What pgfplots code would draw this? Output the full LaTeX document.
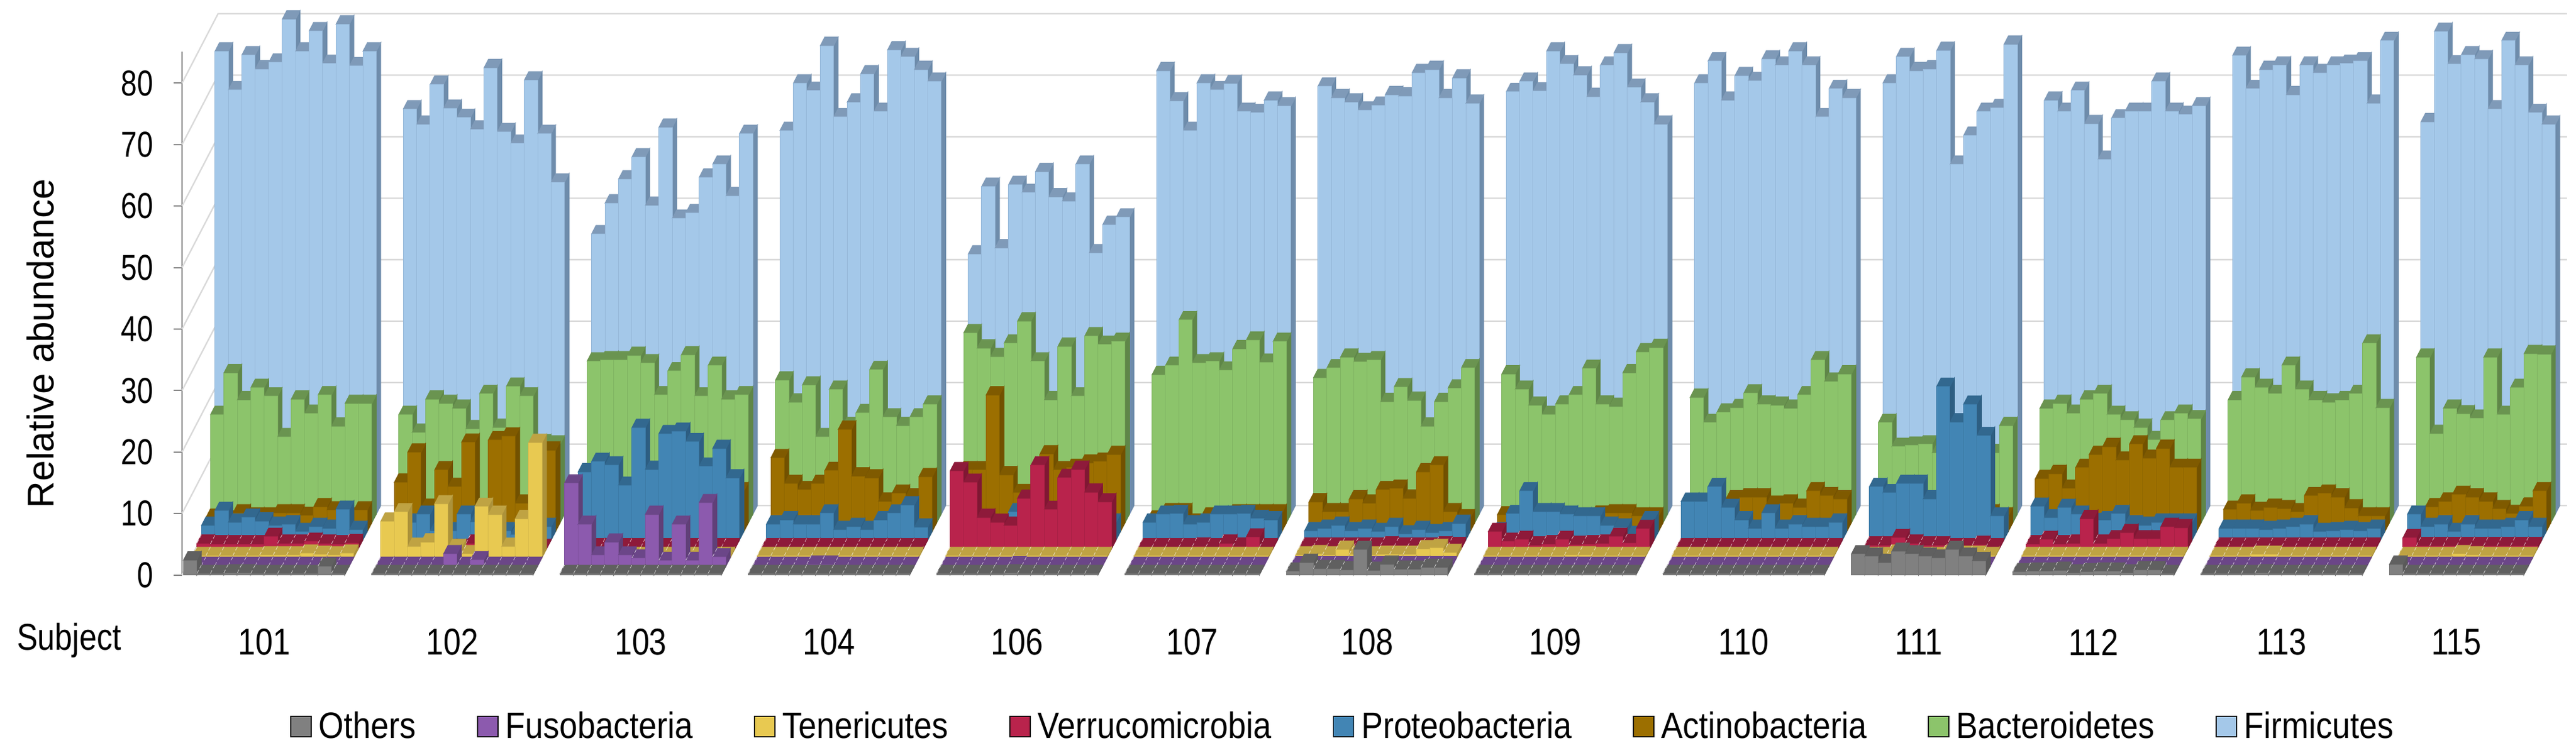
\documentclass[border=0pt]{standalone}
\usepackage{pgfplots}
\usepackage{pgfplotstable}
\usepackage{fontspec}
\pgfplotsset{compat=1.18}
\setmainfont{Liberation Sans}
\newfontfamily\tf[FakeStretch=0.84]{Liberation Sans}
\newfontfamily\yf[FakeStretch=0.80]{Liberation Sans}
\newfontfamily\lf[FakeStretch=0.88]{Liberation Sans}
\definecolor{f0}{HTML}{808080}\definecolor{c0}{HTML}{606060}\definecolor{s0}{HTML}{5A5A5A}
\definecolor{f1}{HTML}{8C5AAE}\definecolor{c1}{HTML}{6B4688}\definecolor{s1}{HTML}{604078}
\definecolor{f2}{HTML}{E8C951}\definecolor{c2}{HTML}{BFA343}\definecolor{s2}{HTML}{AC923A}
\definecolor{f3}{HTML}{B9234C}\definecolor{c3}{HTML}{8E1A3A}\definecolor{s3}{HTML}{801733}
\definecolor{f4}{HTML}{4285B4}\definecolor{c4}{HTML}{32688F}\definecolor{s4}{HTML}{2D5E82}
\definecolor{f5}{HTML}{9C6F00}\definecolor{c5}{HTML}{7F5A00}\definecolor{s5}{HTML}{725100}
\definecolor{f6}{HTML}{8CC46B}\definecolor{c6}{HTML}{6A9450}\definecolor{s6}{HTML}{5F8648}
\definecolor{f7}{HTML}{A4C8E9}\definecolor{c7}{HTML}{7F9AB8}\definecolor{s7}{HTML}{6E8CAB}
\colorlet{e0}{s0!28!f0}\colorlet{e1}{s1!28!f1}\colorlet{e2}{s2!28!f2}\colorlet{e3}{s3!28!f3}
\colorlet{e4}{s4!28!f4}\colorlet{e5}{s5!28!f5}\colorlet{e6}{s6!28!f6}\colorlet{e7}{s7!28!f7}
\colorlet{w0}{white!70!c0}\colorlet{w1}{white!70!c1}\colorlet{w2}{white!70!c2}\colorlet{w3}{white!70!c3}
\colorlet{w4}{white!70!c4}\colorlet{w5}{white!70!c5}\colorlet{w6}{white!70!c6}\colorlet{w7}{white!70!c7}
\definecolor{gridc}{HTML}{D9D9D9}\definecolor{axisc}{HTML}{808080}
\newdimen\cuW \cuW=5.5975bp
\newdimen\cuDX \cuDX=1.875bp
\newdimen\cuDY \cuDY=3.6125bp
\newdimen\cuH
\newdimen\cuXB \newdimen\cuYA \newdimen\cuYB
\newcommand\DeclareCuboid[1]{%
\pgfdeclareplotmark{cuboid#1}{%
  \pgfmathsetlength\cuH{\valh*2.56bp}%
  \pgftransformshift{\pgfqpoint{#1\cuDX}{#1\cuDY}}%
  \cuXB=\cuW \advance\cuXB by \cuDX
  \cuYB=\cuDY \advance\cuYB by -\cuH
  \cuYA=-\cuH
  \pgfsetlinewidth{0.25bp}%
  \pgfsetfillcolor{s#1}\pgfsetstrokecolor{s#1}%
  \pgfpathmoveto{\pgfqpoint{\cuW}{0pt}}%
  \pgfpathlineto{\pgfqpoint{\cuXB}{\cuDY}}%
  \pgfpathlineto{\pgfqpoint{\cuXB}{\cuYB}}%
  \pgfpathlineto{\pgfqpoint{\cuW}{\cuYA}}%
  \pgfpathclose\pgfusepath{fill,stroke}%
  \pgfsetfillcolor{c#1}\pgfsetstrokecolor{c#1}%
  \pgfpathmoveto{\pgfqpoint{0pt}{0pt}}%
  \pgfpathlineto{\pgfqpoint{\cuW}{0pt}}%
  \pgfpathlineto{\pgfqpoint{\cuXB}{\cuDY}}%
  \pgfpathlineto{\pgfqpoint{\cuDX}{\cuDY}}%
  \pgfpathclose\pgfusepath{fill,stroke}%
  \ifnum#1<4 \ifdim\cuH<4bp
    \pgfsetstrokecolor{w#1}\pgfsetlinewidth{0.2bp}%
    \pgfsetdash{{1.6bp}{1bp}}{0pt}%
    \pgfpathmoveto{\pgfqpoint{0pt}{0pt}}%
    \pgfpathlineto{\pgfqpoint{\cuDX}{\cuDY}}%
    \pgfusepath{stroke}%
    \pgfsetdash{}{0pt}\pgfsetlinewidth{0.25bp}%
  \fi\fi
  \pgfsetfillcolor{f#1}\pgfsetstrokecolor{e#1}%
  \pgfpathrectangle{\pgfqpoint{0pt}{\cuYA}}{\pgfqpoint{\cuW}{\cuH}}%
  \pgfusepath{fill,stroke}%
}}
\DeclareCuboid{0}\DeclareCuboid{1}\DeclareCuboid{2}\DeclareCuboid{3}
\DeclareCuboid{4}\DeclareCuboid{5}\DeclareCuboid{6}\DeclareCuboid{7}
\pgfplotstableread{
slot oth fus ten ver pro act bac fir
0 2.4 .1 .3 .9 2.4 2.3 17.6 75.3
1 .2 .1 .3 .8 4.8 2 24.4 69
2 .2 .1 .3 .8 2.9 3 20 74.7
3 .3 .1 .3 .8 3.7 2.5 22 72.4
4 .3 .1 .3 .8 3.1 2.5 20.6 73.5
5 .2 .1 .4 2 2.4 3 14 80.5
6 .2 .1 .4 .9 2.6 3 20.1 75.3
7 .2 .1 .4 .9 1.4 2.6 17.8 78.6
8 .2 .1 .7 1.2 2.2 4 20.8 73.3
9 .2 .1 .5 .9 1.9 3.5 15.7 79.7
10 1.4 .1 .4 .8 5 2.5 19.4 72.9
11 .2 .1 .7 1 1.7 3.5 19.4 75.3
14 .2 .1 5.9 .2 2 8 17.6 65.9
15 .2 .1 7.4 .2 2.9 12.9 14.7 63.4
16 .2 .1 1.8 .2 4.2 3.9 20.1 69.9
17 .2 .1 2.5 .2 1.5 10 19.4 66
18 .2 .1 8.7 .2 1.5 7.3 18.6 64.5
19 .2 2 1.6 .2 4.2 14.5 15.3 62.6
20 .2 .1 .6 .9 3 2.2 21 72.6
21 .2 1 8.3 .2 1.5 14.9 15.5 62.2
22 .2 .1 7 .2 1.5 15.5 22.2 60.3
23 .2 .1 1.8 .2 .9 4.6 20.6 70.6
24 .2 .1 6.3 .2 2 2 13 61.9
25 .2 .1 18.7 .2 2.2 13.2 12.8 54
28 .2 13.5 .2 .3 11.1 3 26.3 45.6
29 .2 6.8 .2 .3 12.8 3 26.5 50.6
30 .2 1.8 .3 .3 12.2 3 26.5 54.5
31 .2 3.9 .3 .3 8.9 3 27.2 58.1
32 .2 1.8 .3 .3 18.3 3 26 50.2
33 .2 1.3 .3 .3 11.5 3 20.8 62.9
34 .2 8.4 .3 .3 17.3 3 24.7 48.1
35 .2 .9 .3 .3 17.7 3 27.3 49
36 .2 6.8 .3 .3 16 3 20.6 54.8
37 .2 .9 .3 .3 12 3 25.6 56.9
38 .2 10.3 .3 .3 14.9 3 20.1 51.8
39 .2 1.5 .3 .3 10.1 6.6 20.8 61.9
42 .2 .1 .3 .3 2.6 12 23.2 62.4
43 .2 .1 .3 .3 3.3 7.8 19.6 70.1
44 .2 .1 .3 .3 2.6 6.8 22.4 68.9
45 .2 .1 .3 .3 2.6 7.8 14 76.2
46 .2 .3 .3 .3 4.4 9.9 21.7 64.6
47 .2 .3 .3 .3 1.7 16.6 15.8 67
48 .2 .1 .3 .3 2.2 9 17.9 71.6
49 .2 .1 .3 .3 1.7 8.7 24.9 65.5
50 .2 .1 .3 .3 3.3 4.9 17.2 75.5
51 .2 .1 .3 .3 4.4 6.2 15.8 74.4
52 .2 .1 .3 .3 5.7 5.6 17.2 72.3
53 .2 .1 .3 .3 2.1 8.9 19.3 70.4
56 .2 .1 .3 12.7 2 10 30.9 42.3
57 .2 .1 .3 10.8 2 10 28.4 53.3
58 .2 .1 .3 5.1 2 22.2 27 43.3
59 .2 .1 .3 4.3 2 9.2 29.2 53.6
60 .2 .1 .3 3.8 4.6 6.3 32.8 52.3
61 .3 .2 .3 8.2 2 6 26.3 55.7
62 .2 .1 .3 13.6 2 12.6 20 51.6
63 .2 .1 .3 6.4 2 10 28.7 50.9
64 .2 .1 .3 11.6 2 10.4 20.6 56.9
65 .2 .1 .3 12.9 2 11.1 30.4 42.5
66 .2 .1 .3 9.2 2 11.4 29 47.1
67 .2 .1 .3 7.6 2.9 12.5 29.5 48.3
70 .2 .1 .3 .3 2.9 2 24.1 72.1
71 .2 .1 .3 .3 4.2 3.2 25.6 67.2
72 .2 .1 .3 .3 4.3 3.2 33 62.4
73 .2 .1 .3 .3 2.6 1.5 26 70.1
74 .2 .1 .3 .4 2.9 2.5 26.3 69
75 .2 .1 .3 .3 4.2 2.5 24.8 70
76 .2 .1 .3 .9 4.2 3 28.3 65.5
77 .2 .1 .3 .4 4.3 3 29.7 65.3
78 .2 .1 .3 1.9 3.5 3 26.1 67.3
79 .2 .1 .3 .3 3.3 3 29.5 66.4
82 .6 .2 .4 .4 1.5 4.8 23.6 69.6
83 2 .2 .6 .4 1.9 3.2 25.2 67.7
84 1 .2 .4 .4 2.4 3.2 26.9 67
85 1 .2 1.3 .4 1.5 5.3 26.2 65.7
86 .8 .2 .5 .4 1.9 4.6 26.5 66.5
87 4.1 .2 .4 .4 1.4 6.8 19.7 68.2
88 .7 .2 .5 .6 2.2 7 22.1 68
89 1.7 .2 .5 .4 1 5.4 19.9 71.8
90 .9 .2 .5 .4 1.7 9.7 15.7 72.3
91 .9 .2 1.4 .4 1.2 10.8 19.7 67.7
92 1.2 .2 1.6 .6 1.5 3.2 21.9 70.9
93 1.2 .2 .8 .5 2.7 2.2 25.2 66.8
96 .2 .1 .3 2.8 1.5 2.7 24.2 68.7
97 .2 .1 .3 1.2 4.3 2.5 21.7 70.4
98 .2 .1 .3 1.5 8 2.5 19.1 68.8
99 .2 .1 .3 .6 4.6 2.5 17.6 75.3
100 .2 .1 .3 .8 4.6 2 19.3 73.2
101 .2 .1 .3 1.5 4.2 2 20.8 71.4
102 .2 .1 .4 .7 3.9 2.5 25.1 67.9
103 .2 .1 .4 .8 3.9 2.8 19.3 73
104 .2 .1 .3 .9 2.4 3 18.9 75
105 .2 .1 .3 2 2.1 3 24.4 69.4
106 .2 .1 .3 1 .9 2.5 27.8 67
107 .2 .1 .3 3.3 3.3 2.5 28.5 63.4
110 .2 .1 .3 .3 6.3 4 20.4 70.1
111 .2 .1 .3 .3 6.3 4 16.3 73.7
112 .2 .1 .3 .3 8.7 4 18 67.3
113 .2 .1 .3 .3 5.3 5.3 18.7 71.3
114 .2 .1 .3 .3 3.3 5.6 21.1 70.5
115 .2 .1 .3 .3 1.9 5.6 19.3 74
116 .2 .1 .3 .3 4.4 4.4 19.1 73
117 .2 .1 .3 .3 1.9 4.6 18.6 75.3
118 .2 .1 .3 .3 2.6 3.9 20.8 73
119 .2 .1 .3 .3 2.2 6.6 26.5 64.6
120 .2 .1 .3 .3 2.2 5.8 23 69.2
121 .2 .1 .3 .3 2.9 5.3 24.2 67.7
124 3.4 .1 .3 .6 8.7 3 16.3 70.1
125 3 .1 .3 .6 7.7 3 12.4 74.4
126 2 .1 .7 1.8 9.2 3 12.6 72.1
127 3.8 .1 .3 .9 9.2 3 12.8 72.4
128 3.4 .1 .3 .6 6.7 3 11.4 75.4
129 3 .1 .3 .6 25 3 11 56.9
130 2.7 .1 .6 .3 19.2 3 11 61.6
131 4.1 .1 .5 .3 22.1 3 11 65.5
132 3 .1 .5 .7 17 3 11.4 66.1
133 2.3 .1 .3 .3 3.9 2.5 15.8 76.4
136 .5 .1 .3 .8 5.5 8.6 18.6 67.3
137 .6 .1 .3 1.5 3.6 9.4 19.4 65.5
138 .6 .1 .3 .8 5.3 7 17.8 68.9
139 .7 .1 .3 .9 4.2 10.4 20.1 63.5
140 .3 .1 .3 4.9 3 12.5 21 57.7
141 .5 .1 .3 .9 3.3 13.8 17.6 64.4
142 .6 .1 .3 1.6 4.3 11.6 16.7 65.5
143 .6 .1 .3 2.6 2.6 14.2 15.5 65.5
144 .3 .1 .3 1.6 2.4 11.9 13.5 70.4
145 .8 .1 .3 1.6 2.9 13.5 16.7 65.5
146 .8 .1 .3 3.6 2.9 10.4 17.8 65
147 .2 .1 .3 3.4 2.9 10.4 16.9 66.4
150 .2 .1 .3 .4 1.9 3.6 20 74.6
151 .2 .1 .3 .4 1.9 4.6 23.7 69.2
152 .2 .1 .3 .4 1.9 3.4 22 72.3
153 .2 .1 .5 .4 1.7 3.9 21 73
154 .3 .1 .5 .4 1.9 3.7 25.6 68.2
155 .2 .1 .3 .4 2.2 3.2 21.7 73
156 .2 .1 .3 .4 2.6 5.8 20 71.8
157 .2 .1 .3 .4 1.4 6.2 19.6 73
158 .2 .1 .3 .4 1.5 5.6 20 73.3
159 .2 .1 .3 .4 1.7 3.8 21 73.7
160 .2 .1 .3 .4 1.5 2.5 29.2 66.8
161 .2 .1 .3 .4 1.9 2.5 18.7 77
164 1.7 .1 .3 1.8 4.2 2 26.9 63.8
165 .2 .1 .3 .5 2.2 4 14.5 78.5
166 .2 .1 .3 .5 2.6 4.9 18.6 73.2
167 .2 .1 .3 .5 1.4 6 17.7 74.7
168 .2 .1 .6 .5 2.6 5.6 17 74
169 .2 .1 .4 .5 1.9 4.9 26.9 65.9
170 .2 .1 .3 .5 1.9 3.7 17.6 77
171 .2 .1 .3 .5 2.2 2.9 22 73
172 .2 .1 .3 .5 3.3 4.1 27.5 65.3
173 .2 .1 .3 .5 2.2 6.6 27.4 63.4
}\datatable
\newcommand\rowplot[2]{%
  \addplot[forget plot,scatter,only marks,mark=cuboid#1,
    scatter/@pre marker code/.code={},scatter/@post marker code/.code={},
    visualization depends on={\thisrow{#2} \as \valh}]
    table[x=slot,y=#2]{\datatable};}
\begin{document}
\begin{tikzpicture}
\path[use as bounding box] (0,0) rectangle (1072bp,313.5bp);
\begin{axis}[
  at={(75.75bp,74.1bp)},anchor=south west,
  x=5.5975bp,y=2.56bp,
  xmin=-0.1,xmax=174.5,ymin=0,ymax=85.15,
  clip=false,
  axis y line=left,axis x line=bottom,
  x axis line style={draw=none,-},
  y axis line style={draw=axisc,line width=.7bp,-},
  ytick={0,10,...,80},
  xtick={6,20,34,48,62,75,88,102,116,129,142,156,169},
  xticklabels={101,102,103,104,106,107,108,109,110,111,112,113,115},
  x tick style={draw=none},
  y tick style={draw=axisc,line width=.5bp},
  tick align=outside,
  major tick length=3.5bp,
  every x tick label/.append style={anchor=center,yshift=-24.5bp,font=\tf\fontsize{15.5bp}{18bp}\selectfont},
  every y tick label/.append style={font=\yf\fontsize{15bp}{18bp}\selectfont,/pgf/number format/assume math mode=true,xshift=-5bp},
  ylabel={Relative abundance},
  every axis y label/.style={at={(axis cs:-10.64,37.65)},rotate=90,anchor=center,font=\fontsize{15.5bp}{18bp}\selectfont},
  legend columns=8,
  legend style={at={(axis cs:7.94,-24.65)},anchor=west,draw=none,fill=none,inner sep=0pt,outer sep=0pt,
    font=\lf\fontsize{15.3bp}{18bp}\selectfont,
    /tikz/every even column/.append style={column sep=23.5bp},
    /tikz/every odd column/.append style={column sep=1bp}},
  legend image code/.code={\fill[#1] (0bp,-4.2bp) rectangle (8.5bp,4.2bp);},
]
\addplot[draw=gridc,line width=.6bp,forget plot] coordinates {(-0.1,0)(2.58,11.29)(177.2,11.29)};
\addplot[draw=gridc,line width=.6bp,forget plot] coordinates {(-0.1,10)(2.58,21.29)(177.2,21.29)};
\addplot[draw=gridc,line width=.6bp,forget plot] coordinates {(-0.1,20)(2.58,31.29)(177.2,31.29)};
\addplot[draw=gridc,line width=.6bp,forget plot] coordinates {(-0.1,30)(2.58,41.29)(177.2,41.29)};
\addplot[draw=gridc,line width=.6bp,forget plot] coordinates {(-0.1,40)(2.58,51.29)(177.2,51.29)};
\addplot[draw=gridc,line width=.6bp,forget plot] coordinates {(-0.1,50)(2.58,61.29)(177.2,61.29)};
\addplot[draw=gridc,line width=.6bp,forget plot] coordinates {(-0.1,60)(2.58,71.29)(177.2,71.29)};
\addplot[draw=gridc,line width=.6bp,forget plot] coordinates {(-0.1,70)(2.58,81.29)(177.2,81.29)};
\addplot[draw=gridc,line width=.6bp,forget plot] coordinates {(-0.1,80)(2.58,91.29)(177.2,91.29)};
\rowplot{7}{fir}
\rowplot{6}{bac}
\rowplot{5}{act}
\rowplot{4}{pro}
\rowplot{3}{ver}
\rowplot{2}{ten}
\rowplot{1}{fus}
\rowplot{0}{oth}
\addlegendimage{fill=f0}\addlegendentry{Others}
\addlegendimage{fill=f1}\addlegendentry{Fusobacteria}
\addlegendimage{fill=f2}\addlegendentry{Tenericutes}
\addlegendimage{fill=f3}\addlegendentry{Verrucomicrobia}
\addlegendimage{fill=f4}\addlegendentry{Proteobacteria}
\addlegendimage{fill=f5}\addlegendentry{Actinobacteria}
\addlegendimage{fill=f6}\addlegendentry{Bacteroidetes}
\addlegendimage{fill=f7}\addlegendentry{Firmicutes}
\node[font=\tf\fontsize{15.5bp}{18bp}\selectfont] at (axis cs:-8.5,-10.59) {Subject};
\end{axis}
\end{tikzpicture}
\end{document}
